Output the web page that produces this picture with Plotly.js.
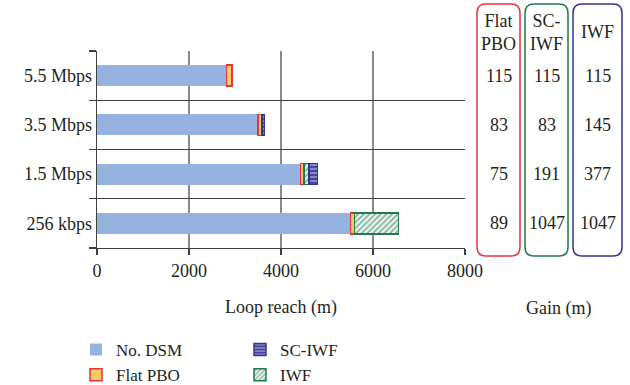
<!DOCTYPE html>
<html>
<head>
<meta charset="utf-8">
<script src="https://cdn.plot.ly/plotly-3.0.1.min.js"></script>
<style>html,body{margin:0;padding:0;background:#fff;}#chart{width:630px;height:385px;}</style>
</head>
<body>
<div id="chart"></div>
<script>
// ---- data ----
const categories = ["256 kbps", "1.5 Mbps", "3.5 Mbps", "5.5 Mbps"];
const noDsm = [5510, 4420, 3500, 2820];          // loop reach without DSM (m)
const gainFlatPBO = [89, 75, 83, 115];           // gain (m)
const gainSCIWF = [1047, 191, 83, 115];          // gain (m)
const gainIWF = [1047, 377, 145, 115];           // gain (m)
const xTicks = [0, 2000, 4000, 6000, 8000];
const gainHeaders = ["Flat<br>PBO", "SC-<br>IWF", "IWF"];

// stacked segments derived from the gains
const segA = gainSCIWF.map((v, i) => (v - gainFlatPBO[i]) > 0 ? v - gainFlatPBO[i] : null);
const segB = gainIWF.map((v, i) => (v - gainSCIWF[i]) > 0 ? v - gainSCIWF[i] : null);

const FONT = "Liberation Serif, DejaVu Serif, serif";
const TXT = "#231f20";
const FS = 18;
const LFS = 17;

const traces = [
  {type: "bar", orientation: "h", name: "No. DSM", y: categories, x: noDsm,
   marker: {color: "#95b3de", line: {width: 0}}, legend: "legend"},
  {type: "bar", orientation: "h", name: "Flat PBO", y: categories, x: gainFlatPBO,
   marker: {color: "#fcd96a", line: {color: "#e8323c", width: 1.5},
            pattern: {shape: "x", fgcolor: "#f0892a", size: 3, solidity: 0.45, fillmode: "overlay"}},
   legend: "legend"},
  {type: "bar", orientation: "h", name: "IWF", y: categories, x: segA,
   marker: {color: "#ffffff", line: {color: "#1f7a4c", width: 1.5},
            pattern: {shape: "/", fgcolor: "#1f7a4c", size: 4, solidity: 0.55, fillmode: "overlay"}},
   legend: "legend2", legendrank: 2},
  {type: "bar", orientation: "h", name: "SC-IWF", y: categories, x: segB,
   marker: {color: "#4545a3", line: {color: "#34348f", width: 1.5},
            pattern: {shape: "-", fgcolor: "#ffffff", size: 4, solidity: 0.35, fillmode: "overlay"}},
   legend: "legend2", legendrank: 1}
];

// plot area in px
const L = 97, R = 465, T = 51, B = 248;
const W = R - L, H = B - T;
const px2x = p => (p - L) / W;
const py2y = p => (B - p) / H;

function roundedRect(x0, x1, y0, y1, r, color) {
  const X = px2x, Y = py2y;
  const path = `M ${X(x0 + r)} ${Y(y0)} L ${X(x1 - r)} ${Y(y0)} Q ${X(x1)} ${Y(y0)} ${X(x1)} ${Y(y0 + r)} ` +
    `L ${X(x1)} ${Y(y1 - r)} Q ${X(x1)} ${Y(y1)} ${X(x1 - r)} ${Y(y1)} L ${X(x0 + r)} ${Y(y1)} ` +
    `Q ${X(x0)} ${Y(y1)} ${X(x0)} ${Y(y1 - r)} L ${X(x0)} ${Y(y0 + r)} Q ${X(x0)} ${Y(y0)} ${X(x0 + r)} ${Y(y0)} Z`;
  return {type: "path", xref: "paper", yref: "paper", path: path, line: {color: color, width: 1.5}, layer: "above"};
}

const cols = [
  {x0: 477, x1: 520, color: "#e8323c", vals: gainFlatPBO},
  {x0: 525, x1: 568, color: "#1f7a4c", vals: gainSCIWF},
  {x0: 573, x1: 622, color: "#34348f", vals: gainIWF}
];

const shapes = cols.map(c => roundedRect(c.x0, c.x1, 4, 256, 9, c.color));
const annotations = [];
cols.forEach((c, ci) => {
  const cx = px2x((c.x0 + c.x1) / 2);
  annotations.push({xref: "paper", yref: "paper", x: cx, y: py2y(32), text: gainHeaders[ci],
    showarrow: false, xanchor: "center", yanchor: "middle", font: {family: FONT, size: FS, color: TXT}});
  categories.forEach((cat, i) => {
    annotations.push({xref: "paper", yref: "y", x: cx, y: cat, text: String(c.vals[i]),
      showarrow: false, xanchor: "center", yanchor: "middle", font: {family: FONT, size: FS, color: TXT}});
  });
});
annotations.push({xref: "paper", yref: "paper", x: px2x(558), y: py2y(308), text: "Gain (m)",
  showarrow: false, xanchor: "center", yanchor: "middle", font: {family: FONT, size: FS, color: TXT}});

const layout = {
  width: 630, height: 385,
  margin: {l: L, r: 630 - R, t: T, b: 385 - B, pad: 0, autoexpand: false},
  paper_bgcolor: "#ffffff", plot_bgcolor: "#ffffff",
  font: {family: FONT, size: FS, color: TXT},
  barmode: "stack", bargap: 0.57,
  showlegend: true,
  xaxis: {range: [0, 8000], tickvals: xTicks, ticktext: xTicks.map(String),
    showgrid: true, gridcolor: "#8a8a8a", gridwidth: 1.3, zeroline: false,
    showline: true, linecolor: "#404040", linewidth: 1.3,
    ticks: "outside", ticklen: 6, tickcolor: "#404040", tickwidth: 1.3,
    tickfont: {family: FONT, size: FS, color: TXT},
    title: {text: "Loop reach (m)", font: {family: FONT, size: FS, color: TXT}, standoff: 20},
    automargin: false, fixedrange: true},
  yaxis: {type: "category", categoryorder: "array", categoryarray: categories,
    range: [-0.5, 3.5], tickson: "boundaries", showgrid: true, gridcolor: "#404040", gridwidth: 1.3,
    zeroline: false, showline: true, linecolor: "#404040", linewidth: 1.3,
    ticks: "outside", ticklen: 7, tickcolor: "#404040", tickwidth: 1.3,
    tickfont: {family: FONT, size: FS, color: TXT}, automargin: false, fixedrange: true},
  legend: {x: px2x(76), y: py2y(332), xanchor: "left", yanchor: "top", orientation: "v",
    font: {family: FONT, size: LFS, color: TXT}, bgcolor: "rgba(0,0,0,0)", tracegroupgap: 0,
    traceorder: "normal"},
  legend2: {x: px2x(240), y: py2y(332), xanchor: "left", yanchor: "top", orientation: "v",
    font: {family: FONT, size: LFS, color: TXT}, bgcolor: "rgba(0,0,0,0)", tracegroupgap: 0,
    traceorder: "normal"},
  shapes: shapes,
  annotations: annotations
};

Plotly.newPlot("chart", traces, layout, {displayModeBar: false, staticPlot: true});
</script>
</body>
</html>
